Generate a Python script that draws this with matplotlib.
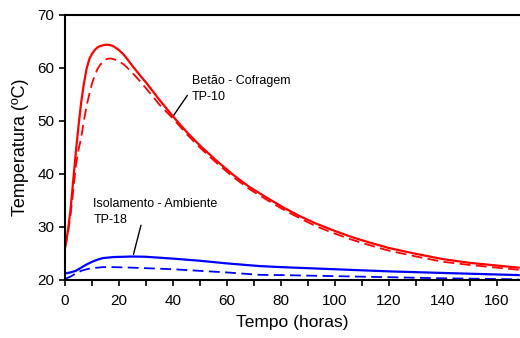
import numpy as np
import matplotlib
matplotlib.use('Agg')
import matplotlib.pyplot as plt

plt.rcParams['font.family'] = ['Liberation Sans', 'DejaVu Sans']

# Betão - Cofragem (TP-10)
hrs_red = [0, 1, 2, 3, 4, 5, 6, 7, 8, 9, 10, 11, 12, 13, 14, 15, 16, 17, 18, 20, 22, 25, 28,
           30, 35, 40, 45, 50, 56, 62, 68, 75, 81, 87, 93, 100, 106, 113, 120, 130, 140, 150, 160, 168]
betao = [26.0, 29.0, 33.0, 38.5, 44.0, 49.0, 53.5, 57.0, 59.8, 61.6, 62.6, 63.3, 63.8, 64.05, 64.2, 64.3, 64.3, 64.2, 64.0, 63.3, 62.3, 60.3, 58.4,
         57.2, 53.9, 50.8, 47.9, 45.3, 42.5, 39.9, 37.6, 35.4, 33.6, 32.0, 30.6, 29.2, 28.1, 27.0, 26.0, 24.9, 23.9, 23.2, 22.7, 22.3]
cofragem = [26.0, 28.5, 32.0, 36.5, 41.5, 44.5, 46.8, 50.0, 52.8, 55.0, 57.0, 58.5, 59.7, 60.5, 61.1, 61.5, 61.7, 61.7, 61.6, 61.2, 60.5, 59.0, 57.3,
            56.1, 53.0, 50.4, 47.5, 44.9, 42.1, 39.5, 37.2, 35.0, 33.2, 31.6, 30.1, 28.7, 27.6, 26.5, 25.5, 24.4, 23.4, 22.8, 22.3, 21.9]

# Isolamento - Ambiente (TP-18)
hrs_blue = [0, 2, 4, 6, 8, 10, 12, 14, 18, 25, 30, 40, 50, 60, 72, 80, 100, 120, 140, 168]
isolamento = [21.2, 21.4, 21.7, 22.3, 22.9, 23.4, 23.8, 24.1, 24.3, 24.4, 24.35, 24.0, 23.6, 23.1, 22.6, 22.4, 22.0, 21.6, 21.3, 20.9]
ambiente = [20.2, 20.6, 21.2, 21.7, 22.0, 22.2, 22.3, 22.4, 22.4, 22.3, 22.2, 22.0, 21.7, 21.4, 20.95, 20.9, 20.7, 20.5, 20.3, 20.1]

fig = plt.figure(figsize=(5.2, 3.38), dpi=100)
ax = fig.add_axes([0.125, 0.172, 0.875, 0.785])

ax.plot(hrs_red, betao, color='#ff0000', lw=1.6)
ax.plot(hrs_red, cofragem, color='#ff0000', lw=1.3, dashes=(6, 3))
ax.plot(hrs_blue, isolamento, color='#0000ff', lw=1.6)
ax.plot(hrs_blue, ambiente, color='#0000ff', lw=1.3, dashes=(6, 3))

ax.set_xlim(0, 168.5)
ax.set_ylim(20, 70)
ax.set_xticks(np.arange(0, 161, 20))
ax.set_xticks(np.arange(10, 170, 20), minor=True)
ax.set_yticks(np.arange(20, 71, 10))

for s in ['left', 'bottom', 'top']:
    ax.spines[s].set_linewidth(1.5)
ax.spines['right'].set_visible(False)
ax.tick_params(which='both', direction='out', length=4, width=1.2, labelsize=11)
ax.tick_params(axis='x', pad=6)

ax.set_xlabel('Tempo (horas)', fontsize=12.5, labelpad=5)
ax.set_ylabel('Temperatura (ºC)', fontsize=13, labelpad=6)

ax.text(47.0, 58.6, 'Betão - Cofragem\nTP-10', fontsize=9, va='top', ha='left', linespacing=1.45)
ax.annotate('', xy=(39.7, 50.6), xytext=(45.9, 55.2),
            arrowprops=dict(arrowstyle='-', color='black', lw=1))
ax.text(10.5, 35.4, 'Isolamento - Ambiente\nTP-18', fontsize=9, va='top', ha='left', linespacing=1.45)
ax.annotate('', xy=(25.1, 24.3), xytext=(28.4, 30.8),
            arrowprops=dict(arrowstyle='-', color='black', lw=1))

fig.savefig('out.png', dpi=100)
